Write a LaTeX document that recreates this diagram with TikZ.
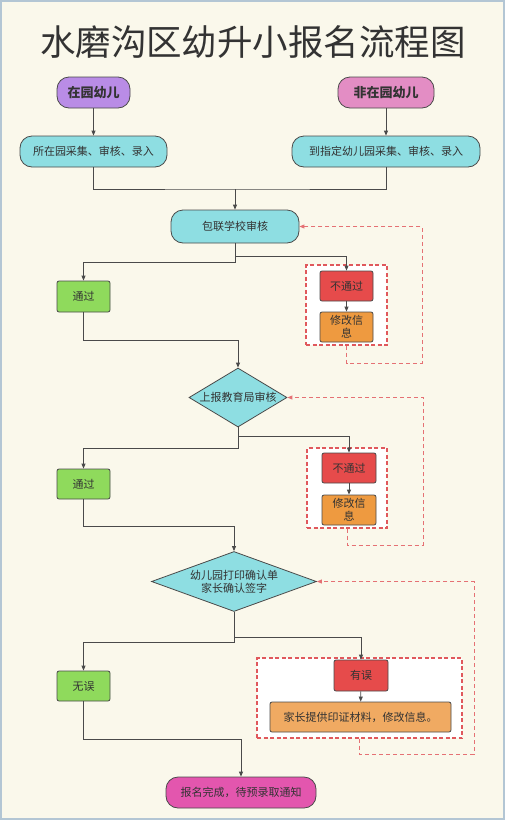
\documentclass[tikz,border=0pt]{standalone}
\usepackage{fontspec}
\setmainfont{Noto Sans CJK SC}
\usetikzlibrary{arrows.meta,positioning,shapes.geometric}

\definecolor{bgcream}{HTML}{FAF8EB}
\definecolor{framecol}{HTML}{B3C6D4}
\definecolor{linegray}{HTML}{4A4A4A}
\definecolor{textgray}{HTML}{333333}
\definecolor{cyanfill}{HTML}{8EDEE2}
\definecolor{purplefill}{HTML}{B98CE6}
\definecolor{pinkfill}{HTML}{E38DC4}
\definecolor{greenfill}{HTML}{8FDA5C}
\definecolor{redfill}{HTML}{E64B4B}
\definecolor{orangefill}{HTML}{EE9A40}
\definecolor{lightorange}{HTML}{F0AA62}
\definecolor{magentafill}{HTML}{E356AE}
\definecolor{dashred}{HTML}{E0585C}

\begin{document}
\begin{tikzpicture}[x=1pt, y=-1pt,
  font=\fontsize{11}{13}\selectfont,
  pill/.style={draw=linegray, line width=0.8pt, rounded corners=12pt, align=center, inner sep=2pt, minimum height=31, text=textgray},
  rbox/.style={draw=linegray, line width=0.8pt, rounded corners=2pt, align=center, inner sep=1pt, minimum height=30, text=textgray},
  dia/.style={draw=linegray, line width=0.8pt, diamond, fill=cyanfill, align=center, inner sep=0pt, text=textgray},
  grp/.style={draw=dashred, dash pattern=on 4pt off 2.5pt, line width=1.2pt, fill=white, minimum height=80},
  line/.style={draw=linegray, line width=0.8pt},
  arr/.style={line, -{Triangle[length=5pt, width=4pt]}},
  back/.style={draw=dashred!85, dash pattern=on 4pt off 3pt, line width=0.9pt, -{Triangle[length=5pt, width=4pt]}}
]
\useasboundingbox (0,0) rectangle (505,820);
\fill[bgcream] (0,0) rectangle (505,820);
\draw[framecol, line width=2pt] (1,1) rectangle (504,819);

\node[font=\fontsize{35.5}{37}\selectfont, text=textgray] (title) at (253,42) {水磨沟区幼升小报名流程图};

% starting points
\node[pill, fill=purplefill, minimum width=73, font=\fontsize{13}{15}\selectfont\bfseries] (kid1) at (93.5,92.5) {在园幼儿};
\node[pill, fill=pinkfill, minimum width=96, font=\fontsize{13}{15}\selectfont\bfseries] (kid2) at (386,92.5) {非在园幼儿};
\node[pill, fill=cyanfill, minimum width=147] (col1) at (93.5,151.5) {所在园采集、审核、录入};
\node[pill, fill=cyanfill, minimum width=188] (col2) at (386,151.5) {到指定幼儿园采集、审核、录入};
\coordinate (m1) at (235,189);

% first review
\node[pill, fill=cyanfill, minimum width=128, minimum height=33] (rev1) at (235,226.5) {包联学校审核};
\node[rbox, fill=greenfill, minimum width=53, minimum height=31] (pass1) at (83.5,296.5) {通过};
\node[grp, minimum width=81] (g1) at (346.5,305) {};
\node[rbox, fill=redfill, minimum width=53] (fail1) at (346.5,286) {不通过};
\node[rbox, fill=orangefill, minimum width=53] (fix1) at (346.5,327) {修改信\\息};
\coordinate (r1) at (422,363);

% second review
\node[dia, shape aspect=1.66, minimum width=98, minimum height=59] (dia1) at (238,397.5) {上报教育局审核};
\node[rbox, fill=greenfill, minimum width=53] (pass2) at (83.5,484) {通过};
\node[grp, minimum width=80] (g2) at (347,488) {};
\node[rbox, fill=redfill, minimum width=54] (fail2) at (349,468) {不通过};
\node[rbox, fill=orangefill, minimum width=54] (fix2) at (349,510) {修改信\\息};
\coordinate (r2) at (423,545);

% confirmation
\node[dia, shape aspect=2.75, minimum width=165, minimum height=60] (dia2) at (234,581.5) {幼儿园打印确认单\\家长确认签字};
\node[rbox, fill=greenfill, minimum width=53] (ok) at (83.5,686) {无误};
\node[grp, minimum width=205] (g3) at (359.5,698) {};
\node[rbox, fill=redfill, minimum width=54, minimum height=31] (err) at (361,675.5) {有误};
\node[rbox, fill=lightorange, minimum width=181] (fix3) at (360.5,717) {家长提供印证材料，修改信息。};
\coordinate (r3) at (474,754);

\node[pill, fill=magentafill, minimum width=150] (done) at (241,792.5) {报名完成，待预录取通知};

\draw[arr] (kid1) -- (col1);
\draw[arr] (kid2) -- (col2);
\draw[line] (col1.south) |- (m1) -| (col2.south);
\draw[arr] (m1) -- (rev1);
\draw[arr] (rev1.south) -- ++(0,19) -| (pass1.north);
\draw[arr] (rev1.south) -- ++(0,13) -| (fail1.north);
\draw[arr] (fail1) -- (fix1);
\draw[arr] (pass1.south) -- ++(0,28) -| (dia1.north);
\draw[back] (g1.south) |- (r1) |- (rev1.east);

\draw[arr] (dia1.south) -- ++(0,21) -| (pass2.north);
\draw[arr] (dia1.south) -- ++(0,9) -| (fail2.north);
\draw[arr] (fail2) -- (fix2);
\draw[arr] (pass2.south) -- ++(0,27) -| (dia2.north);
\draw[back] (g2.south) |- (r2) |- (dia1.east);

\draw[arr] (dia2.south) -- ++(0,30) -| (ok.north);
\draw[arr] (dia2.south) -- ++(0,25) -| (err.north);
\draw[arr] (err) -- (fix3);
\draw[arr] (ok.south) -- ++(0,38) -| (done.north);
\draw[back] (g3.south) |- (r3) |- (dia2.east);
\end{tikzpicture}
\end{document}
